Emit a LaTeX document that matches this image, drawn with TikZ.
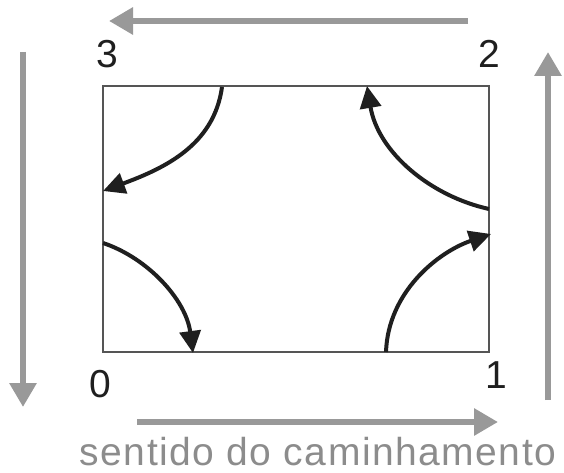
\documentclass[tikz,border=0pt]{standalone}
\usepackage{fontspec}
\setmainfont{Liberation Sans}
\newfontfamily\capfont[LetterSpace=3.8]{Liberation Sans}
\usetikzlibrary{arrows.meta}
\definecolor{flowgray}{HTML}{999999}
\definecolor{textgray}{HTML}{8C8C8C}
\definecolor{boxgray}{HTML}{555555}
\begin{document}
\begin{tikzpicture}[x=1pt,y=-1pt,
  flow/.style={draw=flowgray,line width=6.5pt,-{Triangle[length=24pt,width=26pt]}},
  turn/.style={draw=black!88,line width=4pt,-{Triangle[length=22pt,width=21pt]}},
  corner/.style={font=\fontsize{39}{39}\selectfont,text=black!88,anchor=base,inner sep=0pt},
  caption/.style={font=\capfont\fontsize{39}{39}\selectfont,text=textgray,anchor=base,inner sep=0pt}]
\useasboundingbox (0,0) rectangle (564,473);
% box
\coordinate (tl) at (103,86);
\coordinate (br) at (489,352);
\draw[boxgray,line width=1.5pt] (tl) rectangle (br);
% corner labels
\node[corner] (n3) at (107.5,68) {3};
\node[corner] (n2) at (489,68) {2};
\node[corner] (n0) at (100,397) {0};
\node[corner] (n1) at (496,388) {1};
% outer flow arrows
\coordinate (ta) at (468,21); \coordinate (tb) at (109,21);
\coordinate (la) at (23,52);  \coordinate (lb) at (23,407);
\coordinate (ba) at (137,422); \coordinate (bb) at (498,422);
\coordinate (ra) at (548,400); \coordinate (rb) at (548,52);
\draw[flow] (ta) -- (tb);
\draw[flow] (la) -- (lb);
\draw[flow] (ba) -- (bb);
\draw[flow] (ra) -- (rb);
% turning arrows
\coordinate (a1s) at (222,87);  \coordinate (a1e) at (103,191);
\coordinate (a2s) at (489,209); \coordinate (a2e) at (367,86);
\coordinate (a3s) at (103,243); \coordinate (a3e) at (193,353);
\coordinate (a4s) at (386,352); \coordinate (a4e) at (491,234);
\draw[turn] (a1s) .. controls (214,145) and (165,168) .. (a1e);
\draw[turn] (a2s) .. controls (430,196) and (378,152) .. (a2e);
\draw[turn] (a3s) .. controls (148,258) and (186,300) .. (a3e);
\draw[turn] (a4s) .. controls (388,292) and (438,252) .. (a4e);
% caption
\node[caption] (cap) at (318,465) {sentido do caminhamento};
\end{tikzpicture}
\end{document}
